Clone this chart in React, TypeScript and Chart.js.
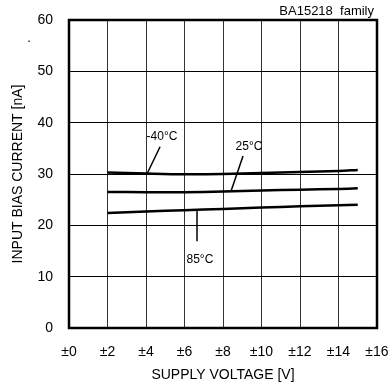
import React, { useEffect, useRef } from "react";
import { Chart, registerables } from "chart.js";

Chart.register(...registerables);

const xTicks = [0, 2, 4, 6, 8, 10, 12, 14, 16];
const voltages = [2, 4, 6, 8, 10, 12, 14, 15];
const currentM40 = [30.3, 30.1, 29.95, 30.0, 30.2, 30.4, 30.6, 30.8];
const current25 = [26.5, 26.45, 26.45, 26.6, 26.8, 26.95, 27.1, 27.2];
const current85 = [22.4, 22.7, 22.95, 23.2, 23.45, 23.7, 23.9, 24.0];

const labels = [
  { text: "-40°C", x: 4.83, y: 37.2, lx1: 4.73, ly1: 35.3, lx2: 4.05, ly2: 30.0 },
  { text: "25°C", x: 9.35, y: 35.3, lx1: 9.04, ly1: 33.5, lx2: 8.42, ly2: 26.7 },
  { text: "85°C", x: 6.8, y: 13.4, lx1: 6.65, ly1: 23.2, lx2: 6.65, ly2: 16.9 },
];

const FONT = "'Liberation Sans', Arial, sans-serif";

export default function App() {
  const ref = useRef<HTMLCanvasElement>(null);
  useEffect(() => {
    document.body.style.margin = "0";
    const mk = (d: number[]) => voltages.map((v, i) => ({ x: v, y: d[i] }));
    const ds = (label: string, d: number[]) => ({
      label,
      data: mk(d),
      borderColor: "#000",
      borderWidth: 2.5,
      pointRadius: 0,
      tension: 0.3,
      fill: false,
    });
    const annot = {
      id: "annot",
      afterDraw(chart: any) {
        const { ctx, chartArea: a, scales } = chart;
        const xs = scales.x, ys = scales.y;
        ctx.save();
        ctx.strokeStyle = "#000";
        ctx.lineWidth = 2.5;
        ctx.strokeRect(a.left, a.top, a.right - a.left, a.bottom - a.top);
        ctx.lineWidth = 1.5;
        ctx.fillStyle = "#000";
        ctx.font = `12px ${FONT}`;
        ctx.textAlign = "center";
        ctx.textBaseline = "middle";
        for (const l of labels) {
          ctx.beginPath();
          ctx.moveTo(xs.getPixelForValue(l.lx1), ys.getPixelForValue(l.ly1));
          ctx.lineTo(xs.getPixelForValue(l.lx2), ys.getPixelForValue(l.ly2));
          ctx.stroke();
          ctx.fillText(l.text, xs.getPixelForValue(l.x), ys.getPixelForValue(l.y));
        }
        ctx.font = `13px ${FONT}`;
        ctx.textAlign = "right";
        ctx.fillText("BA15218  family", a.right - 3, 11);
        ctx.textAlign = "center";
        ctx.fillText(".", 29, 38);
        ctx.restore();
      },
    };
    const chart = new Chart(ref.current!, {
      type: "line",
      data: {
        datasets: [ds("-40°C", currentM40), ds("25°C", current25), ds("85°C", current85)],
      },
      options: {
        animation: false,
        responsive: false,
        layout: { padding: { left: 0, right: 13, top: 20, bottom: 0 } },
        plugins: { legend: { display: false }, tooltip: { enabled: false } },
        scales: {
          x: {
            type: "linear",
            min: 0,
            max: 16,
            afterBuildTicks: (s: any) => {
              s.ticks = xTicks.map((v) => ({ value: v }));
            },
            afterFit: (s: any) => {
              s.height = 61;
              s.paddingLeft = 0;
              s.paddingRight = 0;
            },
            ticks: {
              color: "#000",
              font: { family: FONT, size: 14 },
              padding: 16,
              maxRotation: 0,
              autoSkip: false,
              callback: (v: any) => "±" + v,
            },
            grid: { color: "#333", lineWidth: 1, drawTicks: false },
            border: { display: false },
            title: {
              display: true,
              text: "SUPPLY VOLTAGE [V]",
              color: "#000",
              font: { family: FONT, size: 14 },
              padding: { top: 0, bottom: 5 },
            },
          },
          y: {
            min: 0,
            max: 60,
            ticks: {
              stepSize: 10,
              color: "#000",
              font: { family: FONT, size: 14 },
              padding: 16,
            },
            afterFit: (s: any) => {
              s.width = 69;
              s.paddingTop = 0;
              s.paddingBottom = 0;
            },
            grid: { color: "#000", lineWidth: 1, drawTicks: false },
            border: { display: false },
            title: {
              display: true,
              text: "INPUT BIAS CURRENT [nA]",
              color: "#000",
              font: { family: FONT, size: 14 },
              padding: { top: 10, bottom: 0 },
            },
          },
        },
      },
      plugins: [annot],
    });
    return () => chart.destroy();
  }, []);
  return (
    <div style={{ width: 390, height: 389 }}>
      <canvas ref={ref} width={390} height={389} style={{ width: 390, height: 389 }} />
    </div>
  );
}
